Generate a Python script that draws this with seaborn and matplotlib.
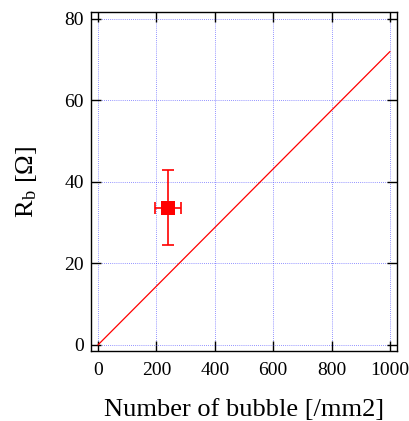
"""Rb vs. number of bubble."""
import numpy as np
import pandas as pd
import matplotlib
matplotlib.use("Agg")
import matplotlib.pyplot as plt
import seaborn as sns

# Modell-Gerade
line_x = [0, 1000]
line_y = [0, 72]

# Messpunkt mit Fehlern
point_x = [240]
point_y = [33.6]
point_xerr = [45]
point_yerr = [9.2]

x_ticks = [0, 200, 400, 600, 800, 1000]
y_ticks = [0, 20, 40, 60, 80]

sns.set_theme(style="ticks")
plt.rcParams['font.family'] = ['Liberation Serif', 'DejaVu Serif']
plt.rcParams['mathtext.fontset'] = 'stix'
plt.rcParams['text.color'] = 'black'
plt.rcParams['axes.labelcolor'] = 'black'
plt.rcParams['xtick.color'] = 'black'
plt.rcParams['ytick.color'] = 'black'

fig = plt.figure(figsize=(4.09, 4.21), dpi=100)
ax = fig.add_axes([0.2225, 0.1663, 0.7482, 0.8052])

df_line = pd.DataFrame({"n": line_x, "rb": line_y})
sns.lineplot(data=df_line, x="n", y="rb", color="red", linewidth=0.9, ax=ax)

ax.errorbar(point_x, point_y, xerr=point_xerr, yerr=point_yerr, fmt="none",
            ecolor="red", elinewidth=1.2, capsize=4, capthick=1.2, zorder=3)
df_pt = pd.DataFrame({"n": point_x, "rb": point_y})
sns.scatterplot(data=df_pt, x="n", y="rb", marker="s", s=90, color="red",
                edgecolor="red", linewidth=0, ax=ax, zorder=4)

ax.set_xlim(-24, 1024)
ax.set_ylim(-1.5, 81.7)
ax.set_xticks(x_ticks)
ax.set_yticks(y_ticks)
ax.grid(True, color="#3333ff", linestyle=(0, (1, 1.5)), linewidth=0.6, alpha=0.7)
ax.tick_params(direction="in", top=True, right=True, length=7, width=1,
               labelsize=14, color="black", labelcolor="black")
ax.tick_params(axis="x", pad=8)
ax.tick_params(axis="y", pad=5)
for s in ax.spines.values():
    s.set_linewidth(1.0)
    s.set_color("black")

ax.set_xlabel("Number of bubble [/mm2]", fontsize=19, labelpad=14)
ax.set_ylabel(r"R$_{\mathregular{b}}$ [$\mathregular{\Omega}$]", fontsize=19, labelpad=18)

fig.savefig("out.png", dpi=100)
